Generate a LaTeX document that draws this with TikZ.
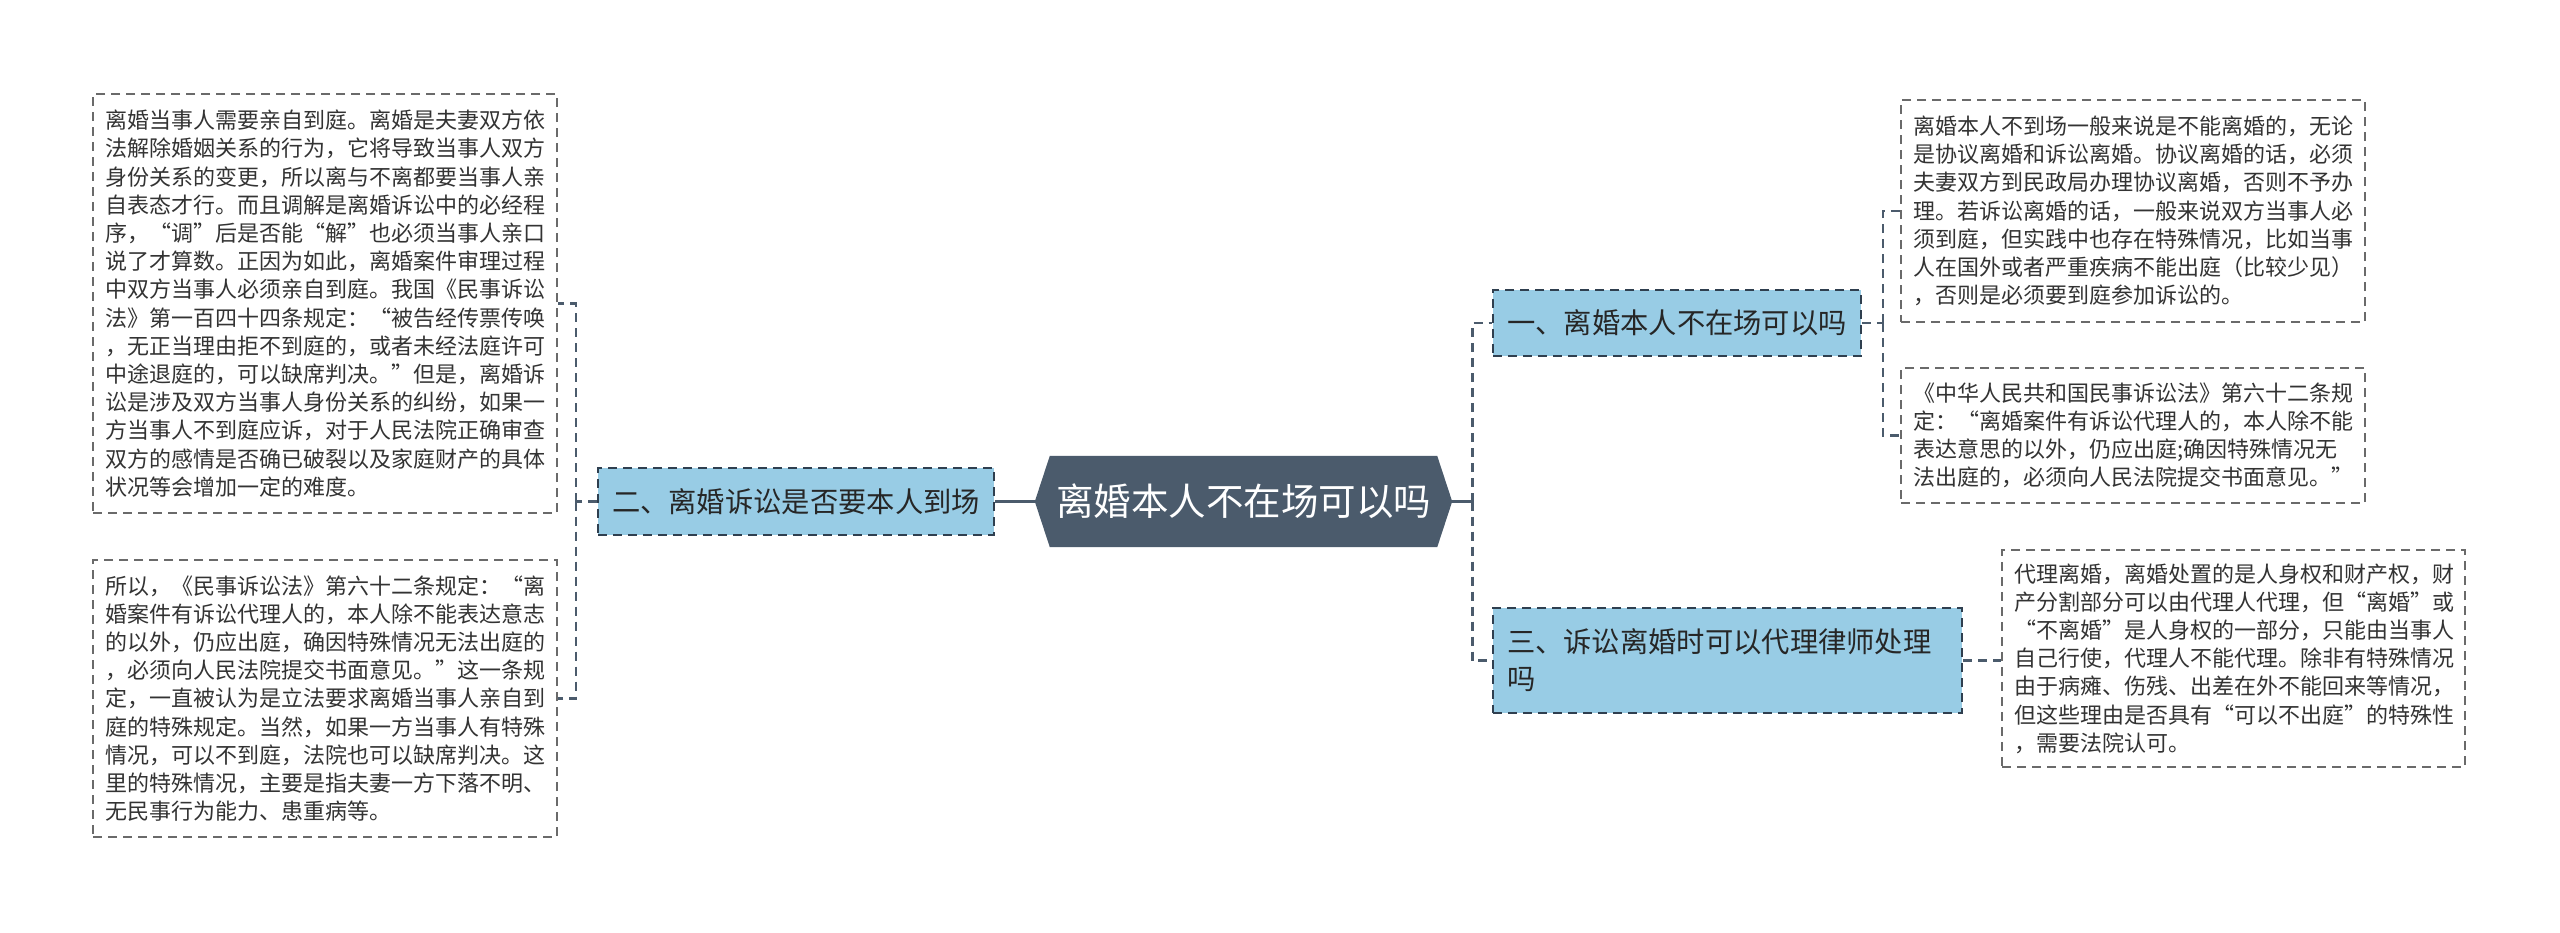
\documentclass[tikz,border=0pt]{standalone}
\usepackage{fontspec}
\setmainfont{Noto Sans CJK SC}[RawFeature=+fwid]
\newfontfamily\hwfont{Noto Sans CJK SC}
\usetikzlibrary{backgrounds}
\definecolor{rootfill}{HTML}{4B5B6C}
\definecolor{branchfill}{HTML}{98CCE5}
\definecolor{branchline}{HTML}{2F3F4F}
\definecolor{txtline}{HTML}{6A6A6A}
\definecolor{conncol}{HTML}{4B5B6C}
\definecolor{textcol}{HTML}{333333}
\begin{document}
\begin{tikzpicture}[x=1pt,y=-1pt,
  txtbox/.style={draw=txtline, line width=1.6pt, dash pattern=on 9pt off 6pt, fill=white,
    text=textcol, font=\fontsize{22}{28.2}\selectfont, align=left,
    inner xsep=12pt, inner ysep=0pt},
  branch/.style={draw=branchline, line width=2pt, dash pattern=on 9pt off 6pt, fill=branchfill,
    text=black!85, font=\fontsize{28.3}{37}\selectfont, align=left,
    inner xsep=14pt, inner ysep=0pt},
  rootnode/.style={text=white, font=\fontsize{37.5}{40}\selectfont,
    minimum width=417pt, minimum height=91pt, inner sep=0pt},
  conn/.style={draw=conncol, line width=2.6pt, dash pattern=on 9pt off 6pt},
  connsolid/.style={draw=conncol, line width=2.6pt}
]
\useasboundingbox (0,0) rectangle (2560,932);

\node[rootnode] (root) at (1243.5,501.5) {离婚本人不在场可以吗};
\begin{scope}[on background layer]
\fill[white] (0,0) rectangle (2560,932);
\fill[rootfill] ([xshift=15pt]root.north west) -- ([xshift=-15pt]root.north east) -- (root.east)
  -- ([xshift=-15pt]root.south east) -- ([xshift=15pt]root.south west) -- (root.west) -- cycle;
\end{scope}

\node[branch, minimum height=67pt] (b2) at (796,501.5) {二、离婚诉讼是否要本人到场};
\node[branch, minimum height=66pt] (b1) at (1677,323) {一、离婚本人不在场可以吗};
\node[branch, minimum height=105pt, text width=441pt] (b3) at (1727.5,660.5) {三、诉讼离婚时可以代理律师处理\\吗};

\node[txtbox, text width=440pt, minimum height=419pt] (l1) at (325,303.5) {离婚当事人需要亲自到庭。离婚是夫妻双方依\\
法解除婚姻关系的行为，它将导致当事人双方\\
身份关系的变更，所以离与不离都要当事人亲\\
自表态才行。而且调解是离婚诉讼中的必经程\\
序，“调”后是否能“解”也必须当事人亲口\\
说了才算数。正因为如此，离婚案件审理过程\\
中双方当事人必须亲自到庭。我国《民事诉讼\\
法》第一百四十四条规定：“被告经传票传唤\\
，无正当理由拒不到庭的，或者未经法庭许可\\
中途退庭的，可以缺席判决。”但是，离婚诉\\
讼是涉及双方当事人身份关系的纠纷，如果一\\
方当事人不到庭应诉，对于人民法院正确审查\\
双方的感情是否确已破裂以及家庭财产的具体\\
状况等会增加一定的难度。};

\node[txtbox, text width=440pt, minimum height=277pt] (l2) at (325,698.5) {所以，《民事诉讼法》第六十二条规定：“离\\
婚案件有诉讼代理人的，本人除不能表达意志\\
的以外，仍应出庭，确因特殊情况无法出庭的\\
，必须向人民法院提交书面意见。”这一条规\\
定，一直被认为是立法要求离婚当事人亲自到\\
庭的特殊规定。当然，如果一方当事人有特殊\\
情况，可以不到庭，法院也可以缺席判决。这\\
里的特殊情况，主要是指夫妻一方下落不明、\\
无民事行为能力、患重病等。};

\node[txtbox, text width=440pt, minimum height=222pt] (r1) at (2133,211) {离婚本人不到场一般来说是不能离婚的，无论\\
是协议离婚和诉讼离婚。协议离婚的话，必须\\
夫妻双方到民政局办理协议离婚，否则不予办\\
理。若诉讼离婚的话，一般来说双方当事人必\\
须到庭，但实践中也存在特殊情况，比如当事\\
人在国外或者严重疾病不能出庭（比较少见）\\
，否则是必须要到庭参加诉讼的。};

\node[txtbox, text width=440pt, minimum height=135pt] (r2) at (2133,435.5) {《中华人民共和国民事诉讼法》第六十二条规\\
定：“离婚案件有诉讼代理人的，本人除不能\\
表达意思的以外，仍应出庭{\hwfont;}确因特殊情况无\\
法出庭的，必须向人民法院提交书面意见。”};

\node[txtbox, text width=439pt, minimum height=217pt] (r3) at (2233.5,658.5) {代理离婚，离婚处置的是人身权和财产权，财\\
产分割部分可以由代理人代理，但“离婚”或\\
“不离婚”是人身权的一部分，只能由当事人\\
自己行使，代理人不能代理。除非有特殊情况\\
由于病瘫、伤残、出差在外不能回来等情况，\\
但这些理由是否具有“可以不出庭”的特殊性\\
，需要法院认可。};

% connectors
\draw[connsolid] (root.west) -- (b2.east);
\draw[connsolid] (root.east) -- ++(20,0) coordinate (rj);
\draw[conn] (rj) |- (b1.west);
\draw[conn] (rj) |- (b3.west);
\draw[conn] (b2.west) -- ++(-21,0) coordinate (lj);
\draw[conn] (lj) |- (l1.east);
\draw[conn] (lj) |- (l2.east);
\draw[conn] (b1.east) -- ++(21,0) coordinate (j1);
\draw[conn] (j1) |- (r1.west);
\draw[conn] (j1) |- (r2.west);
\draw[conn] (b3.east) -- (b3.east -| r3.west);
\end{tikzpicture}
\end{document}
